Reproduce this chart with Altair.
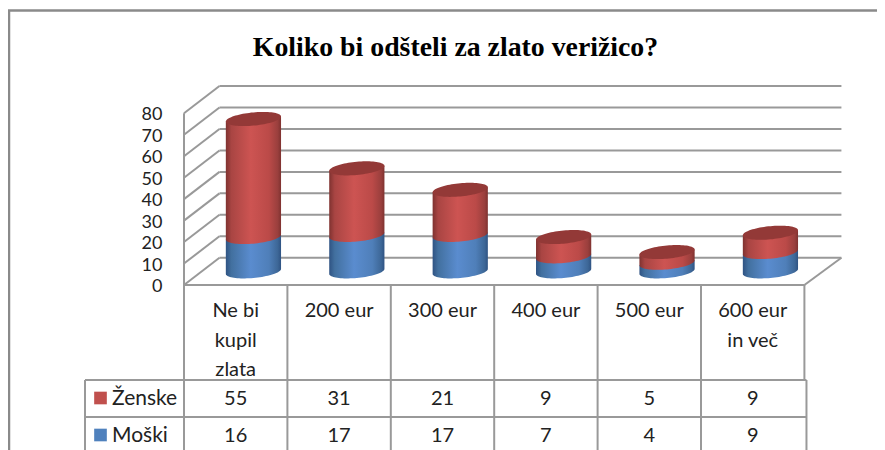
import altair as alt
import numpy as np
import pandas as pd

categories = [["Ne bi", "kupil", "zlata"], ["200 eur"], ["300 eur"], ["400 eur"], ["500 eur"], ["600 eur", "in več"]]
women = [55, 31, 21, 9, 5, 9]
men = [16, 17, 17, 7, 4, 9]
ticks = list(range(0, 90, 10))
title = "Koliko bi odšteli za zlato verižico?"

# Chart space: x in category units, y in value units (front plane of the 3D box).
PX_U, PX_V = 103.4, 2.146
X0, Y0 = 184 - 8, 285 - 8
W, H = 869, 442
xdom = [-X0 / PX_U, (W - X0) / PX_U]
ydom = [(Y0 - H) / PX_V, Y0 / PX_V]
DU, DV = 0.343, 12.7            # depth of the box
A, B, S = 0.267, 6.6 / PX_V, 2.5 / PX_V  # cylinder radius, cap half height, cap tilt
MID_U = 0.5 + DU / 2
MID_V = DV / 2

xs = alt.Scale(domain=xdom, nice=False, zero=False)
ys = alt.Scale(domain=ydom, nice=False, zero=False)
value_axis = alt.Axis(
    values=ticks, offset=-154, domain=False, ticks=False, grid=False, title=None,
    labelFont="Lato", labelFontSize=18, labelColor="#222222", labelPadding=0,
    labelOverlap=False, labelFlush=False, labelOffset=1.5,
)
X = alt.X("x:Q", scale=xs, axis=None)
Y = alt.Y("y:Q", scale=ys, axis=value_axis)

GRAY = "#999999"


def samples():
    return np.sin(np.linspace(-np.pi / 2, np.pi / 2, 41))


def segment(i, v0, v1):
    rows = []
    for t in samples():
        arc = B * np.sqrt(max(0.0, 1 - t * t))
        rows.append({
            "x": i + MID_U + A * t,
            "y": v0 + MID_V + S * t - arc,
            "y2": v1 + MID_V + S * t,
            "id": f"{i}",
        })
    return rows


def cap(i, v):
    rows = []
    for t in samples():
        arc = B * np.sqrt(max(0.0, 1 - t * t))
        rows.append({
            "x": i + MID_U + A * t,
            "y": v + MID_V + S * t - arc,
            "y2": v + MID_V + S * t + arc,
            "id": f"{i}",
        })
    return rows


blue_df = pd.DataFrame(sum((segment(i, 0, m) for i, m in enumerate(men)), []))
red_df = pd.DataFrame(sum((segment(i, m, m + w) for i, (m, w) in enumerate(zip(men, women))), []))
cap_df = pd.DataFrame(sum((cap(i, m + w) for i, (m, w) in enumerate(zip(men, women))), []))


def grad(stops):
    return alt.Gradient(
        gradient="linear", x1=0, x2=1, y1=0, y2=0,
        stops=[alt.GradientStop(offset=o, color=c) for o, c in stops],
    )


BLUE_G = grad([(0, "#2f5383"), (0.1, "#42709f"), (0.45, "#5a8ccf"), (0.78, "#4f7fb9"), (0.94, "#3d6797"), (1, "#2f5383")])
RED_G = grad([(0, "#7f3230"), (0.1, "#a94543"), (0.45, "#cd5452"), (0.78, "#bb4a48"), (0.94, "#9a3f3d"), (1, "#7f3230")])

blue = alt.Chart(blue_df).mark_area(fill=BLUE_G).encode(x=X, y=Y, y2="y2:Q", detail="id:N")
red = alt.Chart(red_df).mark_area(fill=RED_G).encode(x=X, y=Y, y2="y2:Q", detail="id:N")
caps = alt.Chart(cap_df).mark_area(color="#933937").encode(x=X, y=Y, y2="y2:Q", detail="id:N")

# Box: back wall, left wall, floor
back = pd.DataFrame([{"x": DU, "x2": 6 + DU + 0.015, "y": t + DV, "y2": t + DV} for t in ticks])
side = pd.DataFrame([{"x": 0, "x2": DU, "y": t, "y2": t + DV} for t in ticks]
                    + [{"x": 6, "x2": 6 + DU + 0.015, "y": 0, "y2": DV},
                       {"x": 0, "x2": 0, "y": 0, "y2": 80}])

# Table lines
RULE_Y1 = (Y0 - (380 - 8)) / PX_V
RULE_Y2 = (Y0 - (417 - 8)) / PX_V
LEFT_U = (85 - 184) / PX_U
RIGHT_U = 6.02
table = [{"x": 0, "x2": 6, "y": 0, "y2": 0},
         {"x": LEFT_U, "x2": RIGHT_U, "y": RULE_Y1, "y2": RULE_Y1},
         {"x": LEFT_U, "x2": RIGHT_U, "y": RULE_Y2, "y2": RULE_Y2},
         {"x": LEFT_U, "x2": LEFT_U, "y": RULE_Y1, "y2": ydom[0]},
         {"x": 6, "x2": 6, "y": 0, "y2": RULE_Y1},
         {"x": RIGHT_U, "x2": RIGHT_U, "y": RULE_Y1, "y2": ydom[0]}]
table += [{"x": i, "x2": i, "y": 0, "y2": ydom[0]} for i in range(6)]
lines_df = pd.concat([back, side, pd.DataFrame(table)], ignore_index=True)

grid = alt.Chart(lines_df).mark_rule(color=GRAY, strokeWidth=2).encode(x=X, x2="x2:Q", y=Y, y2="y2:Q")

# Cell text
ROW1 = (Y0 - (398 - 8)) / PX_V
ROW2 = (Y0 - (435 - 8)) / PX_V
cells = []
for i, lines in enumerate(categories):
    for j, s in enumerate(lines):
        cells.append({"x": i + 0.5, "y": -(25 + 29.5 * j) / PX_V, "t": s})
    cells.append({"x": i + 0.5, "y": ROW1, "t": str(women[i])})
    cells.append({"x": i + 0.5, "y": ROW2, "t": str(men[i])})
cell_text = alt.Chart(pd.DataFrame(cells)).mark_text(
    font="Lato", fontSize=20, color="#222222", align="center", baseline="middle", dy=1
).encode(x=X, y=Y, text="t:N")

series = pd.DataFrame([
    {"x": (112 - 184) / PX_U, "y": ROW1, "t": "Ženske", "c": "#c0504d", "k": (100.5 - 184) / PX_U},
    {"x": (112 - 184) / PX_U, "y": ROW2, "t": "Moški", "c": "#4f81bd", "k": (100.5 - 184) / PX_U},
])
series_text = alt.Chart(series).mark_text(
    font="Lato", fontSize=21, color="#222222", align="left", baseline="middle", dy=1
).encode(x=X, y=Y, text="t:N")
series_keys = alt.Chart(series).mark_point(shape="square", filled=True, size=160, opacity=1).encode(
    x=alt.X("k:Q", scale=xs, axis=None), y=Y, color=alt.Color("c:N", scale=None)
)

title_layer = alt.Chart(pd.DataFrame({"x": [(455.5 - 184) / PX_U], "y": [(285 - 48) / PX_V], "t": [title]})).mark_text(
    font="Liberation Serif", fontWeight="bold", fontSize=27.8, color="#000000", align="center", baseline="middle"
).encode(x=X, y=Y, text="t:N")

frame_l = alt.Chart(pd.DataFrame({"a": [0]})).mark_rule(color="#8a8a8a", strokeWidth=2.5).encode(
    x=alt.value(1), y=alt.value(2), y2=alt.value(H))
frame_t = alt.Chart(pd.DataFrame({"a": [0]})).mark_rule(color="#8a8a8a", strokeWidth=2.5).encode(
    x=alt.value(0), x2=alt.value(W), y=alt.value(2.5))

chart = alt.layer(
    frame_l, frame_t, grid, blue, red, caps,
    cell_text, series_text, series_keys, title_layer,
).properties(
    width=W, height=H, padding=0, autosize=alt.AutoSizeParams(type="none"), background="#ffffff",
).configure_view(stroke=None)

chart.save("out.html", embed_options={"renderer": "svg", "actions": False})
